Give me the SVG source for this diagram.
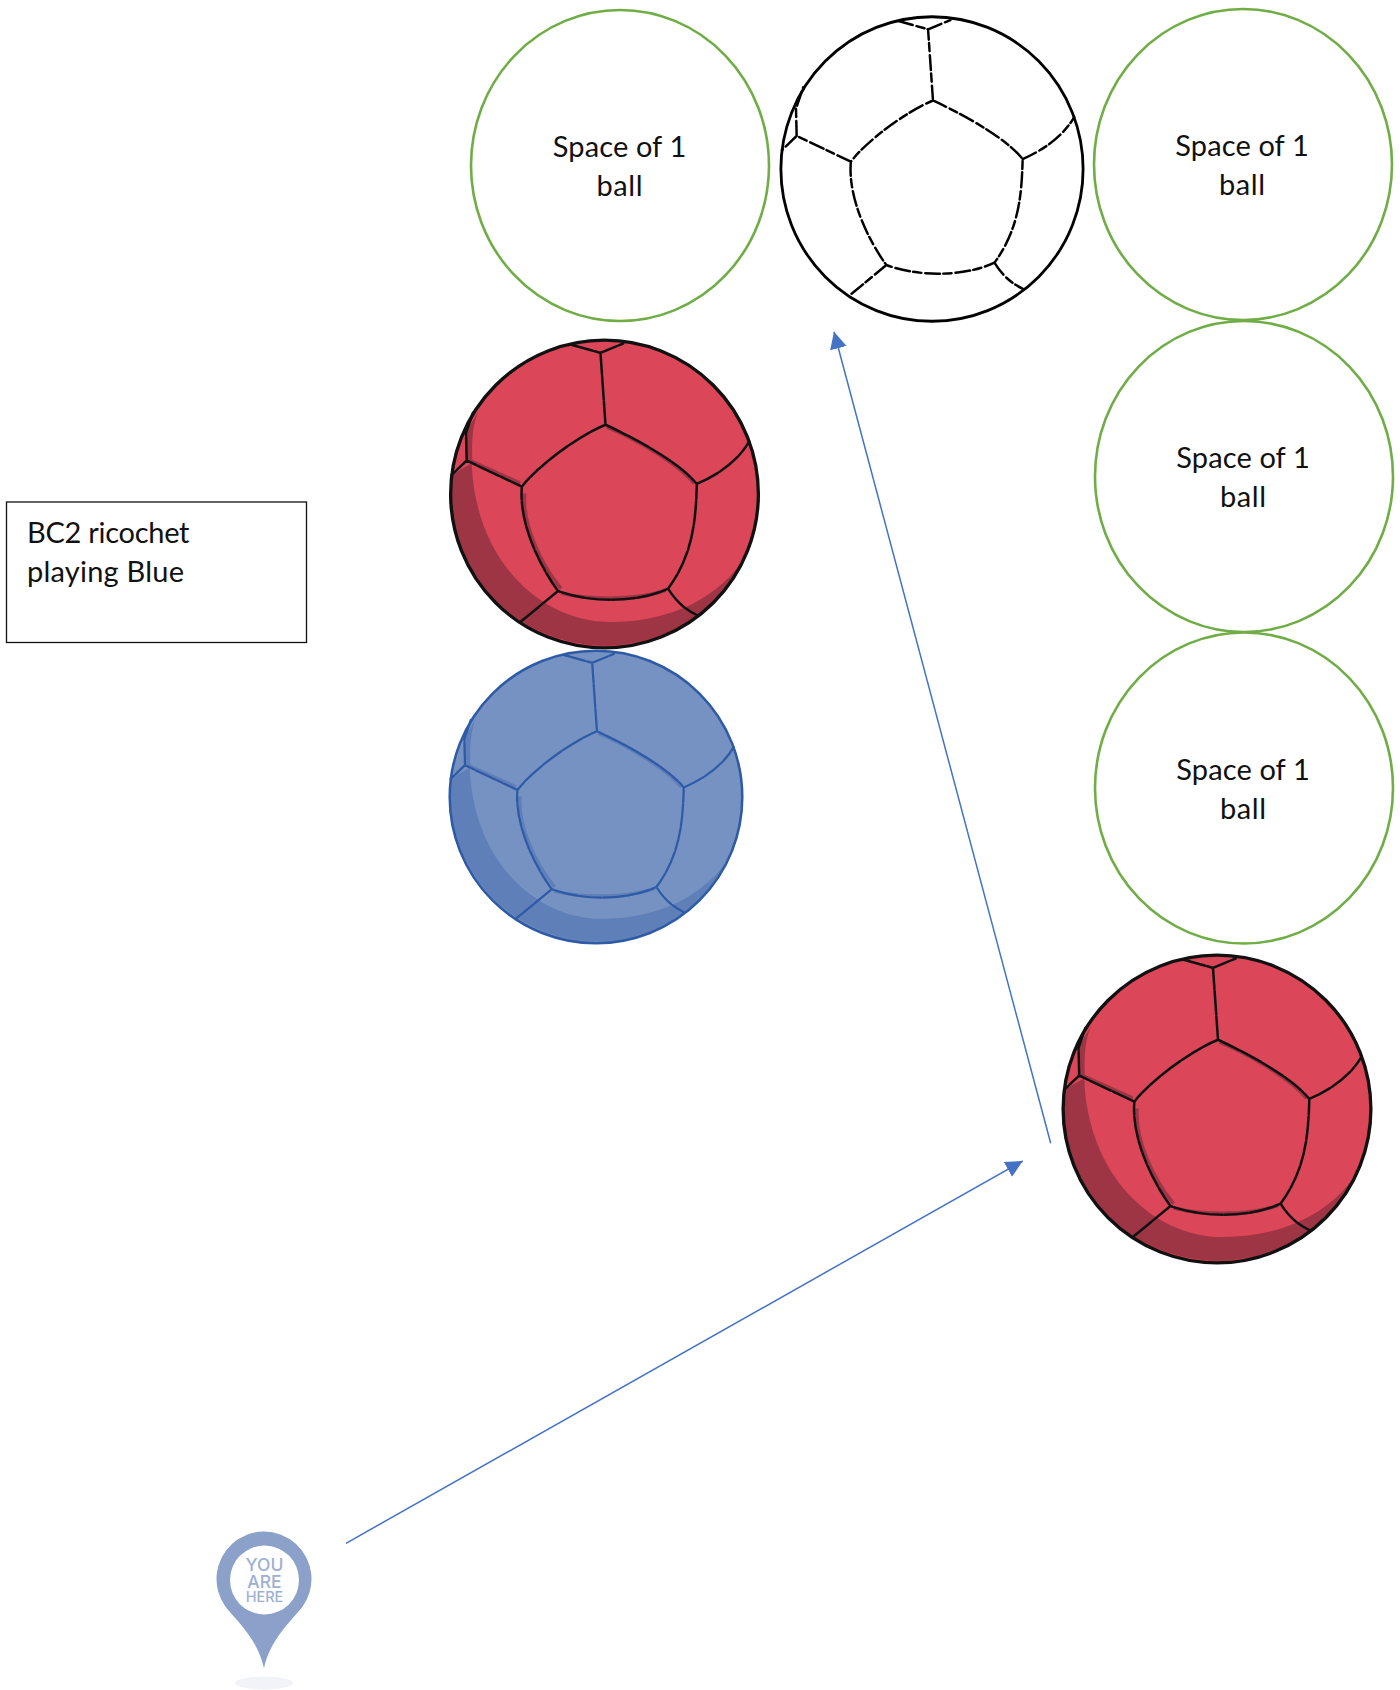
<svg xmlns="http://www.w3.org/2000/svg" width="1400" height="1690" viewBox="0 0 1400 1690">
<style>
text{font-family:"Lato","Liberation Sans",sans-serif;font-size:29px;fill:#111}
.space{fill:#fff;stroke:#70AD47;stroke-width:2.6}
.mid{text-anchor:middle}
.wire{fill:none;stroke:#4472C4;stroke-width:1.5}
.pintext{font-family:"Inter","Liberation Sans",sans-serif;fill:#9DB0D3;text-anchor:middle;font-weight:500}
</style>
<defs>
<marker id="tip" markerUnits="userSpaceOnUse" markerWidth="18" markerHeight="18" refX="17" refY="8.5" orient="auto"><path d="M0 0L17 8.5L0 17Z" fill="#4472C4"/></marker>
<path id="shade" d="M65 465A462 462 0 0 0 945 705C870 830 720 905 540 905C330 905 135 720 125 430ZM108 420L112 330L145 275C125 320 125 380 127 430Z"/>
<path id="seams" fill="none" stroke-linecap="round" d="M525 315C590 345 740 420 798 492C795 590 790 700 712 805C640 840 500 855 383 812C330 740 265 610 275 500C320 440 440 350 525 315ZM525 315L510 100M420 75L510 100L578 72M275 500L110 422L65 465M110 422L108 340L130 275M798 492C860 465 920 425 955 365M712 805C740 850 770 870 800 885M383 812L270 905"/>
<path id="soft" fill="none" d="M530 322C600 350 735 425 790 490M283 520C275 610 330 730 392 805M392 818C480 840 620 840 705 810M118 422L270 490"/>
</defs>
<g id="ball-red-top" transform="translate(604.5 494) scale(.3345) translate(-522 -522)">
<circle cx="522" cy="522" r="460" fill="#DB4659"/><use href="#shade" fill="#9D3545"/><use href="#soft" stroke="#9D3545" stroke-width="11"/><use href="#seams" stroke="#111" stroke-width="7.5" stroke-dasharray="70 6"/><circle cx="522" cy="522" r="460" fill="none" stroke="#111" stroke-width="10"/>
</g>
<g id="ball-blue" transform="translate(596 797) scale(.318) translate(-522 -522)">
<circle cx="522" cy="522" r="460" fill="#7592C3"/><use href="#shade" fill="#5F7FB8"/><use href="#soft" stroke="#5F7FB8" stroke-width="11"/><use href="#seams" stroke="#2E5AA6" stroke-width="7" stroke-dasharray="70 6"/><circle cx="522" cy="522" r="460" fill="none" stroke="#2E5AA6" stroke-width="8"/>
</g>
<g id="ball-red-right" transform="translate(1217 1109) scale(.3345) translate(-522 -522)">
<circle cx="522" cy="522" r="460" fill="#DB4659"/><use href="#shade" fill="#9D3545"/><use href="#soft" stroke="#9D3545" stroke-width="11"/><use href="#seams" stroke="#111" stroke-width="7.5" stroke-dasharray="70 6"/><circle cx="522" cy="522" r="460" fill="none" stroke="#111" stroke-width="10"/>
</g>
<g id="ball-white" transform="translate(932 169) scale(.3285 .331) translate(-522 -522)">
<circle cx="522" cy="522" r="460" fill="#fff" stroke="#000" stroke-width="8.5"/><use href="#seams" stroke="#000" stroke-width="7.5" stroke-dasharray="45 12 25 10"/>
</g>
<g id="space-1"><ellipse class="space" cx="620" cy="165.5" rx="149" ry="155.5"/><text class="mid" x="619.5" y="157" textLength="133.5">Space of 1</text><text class="mid" x="619.5" y="196" textLength="46">ball</text></g>
<g id="space-2"><ellipse class="space" cx="1243" cy="164.5" rx="149" ry="155.5"/><text class="mid" x="1242" y="156" textLength="133.5">Space of 1</text><text class="mid" x="1242" y="195" textLength="46">ball</text></g>
<g id="space-3"><ellipse class="space" cx="1244" cy="476.5" rx="149" ry="155.5"/><text class="mid" x="1243" y="468" textLength="133.5">Space of 1</text><text class="mid" x="1243" y="507" textLength="46">ball</text></g>
<g id="space-4"><ellipse class="space" cx="1244" cy="788" rx="149" ry="155.5"/><text class="mid" x="1243" y="780" textLength="133.5">Space of 1</text><text class="mid" x="1243" y="819" textLength="46">ball</text></g>
<g id="label"><rect x="6.5" y="502" width="300" height="140.5" fill="#fff" stroke="#111" stroke-width="1.3"/><text x="27" y="542.5" textLength="162.5">BC2 ricochet</text><text x="27" y="581.5" textLength="157">playing Blue</text></g>
<g id="connectors">
<path class="wire" marker-end="url(#tip)" d="M346 1543.3L1022.7 1161"/>
<path class="wire" marker-end="url(#tip)" d="M1050.7 1143.3L834 331.7"/>
</g>
<g id="pin">
<ellipse cx="264" cy="1683" rx="29" ry="6.5" fill="#F1F3F8"/>
<path fill="#8BA1C9" d="M225.6 1607C238 1622 258 1640 264 1668.3C270 1640 290 1622 302.4 1607A47.5 47.5 0 1 0 225.6 1607Z"/>
<circle cx="264.5" cy="1580" r="34.5" fill="#fff"/>
<text class="pintext" x="264.5" y="1571" style="font-size:17.5px">YOU</text>
<text class="pintext" x="264.5" y="1588.3" style="font-size:17.5px">ARE</text>
<text class="pintext" x="264.5" y="1601.7" style="font-size:14.5px">HERE</text>
</g>
</svg>
